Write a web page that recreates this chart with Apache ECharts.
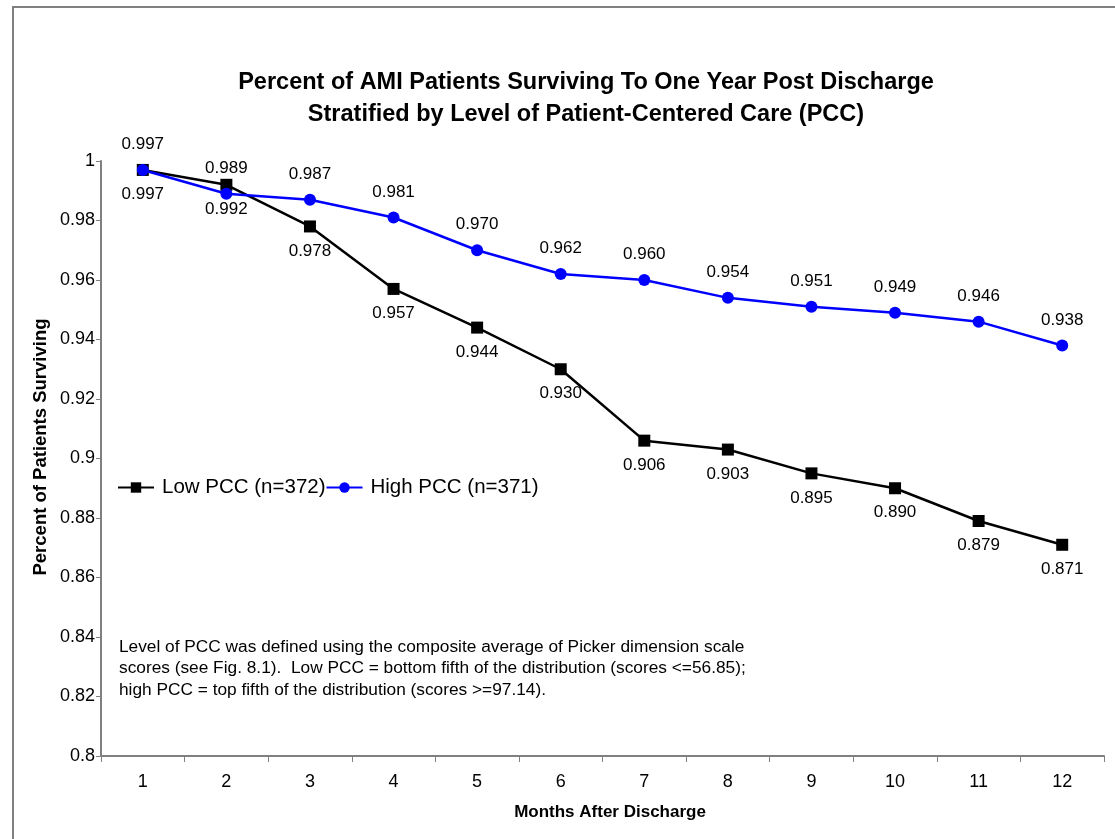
<!DOCTYPE html>
<html><head><meta charset="utf-8">
<script src="https://cdn.jsdelivr.net/npm/echarts@6/dist/echarts.min.js"></script>
<style>html,body{margin:0;padding:0;background:#fff}#c{width:1115px;height:839px}</style>
</head><body><div id="c"></div>
<script>
const months = ['1','2','3','4','5','6','7','8','9','10','11','12'];
const lowPCC = [0.997,0.992,0.978,0.957,0.944,0.930,0.906,0.903,0.895,0.890,0.879,0.871];
const highPCC = [0.997,0.989,0.987,0.981,0.970,0.962,0.960,0.954,0.951,0.949,0.946,0.938];
const lowName = 'Low PCC (n=372)';
const highName = 'High PCC (n=371)';
const titleLines = 'Percent of AMI Patients Surviving To One Year Post Discharge\nStratified by Level of Patient-Centered Care (PCC)';
const xTitle = 'Months After Discharge';
const yTitle = 'Percent of Patients Surviving';
const noteText = 'Level of PCC was defined using the composite average of Picker dimension scale\nscores (see Fig. 8.1).  Low PCC = bottom fifth of the distribution (scores <=56.85);\nhigh PCC = top fifth of the distribution (scores >=97.14).';

const FONT = '"Liberation Sans", Arial, sans-serif';
const chart = echarts.init(document.getElementById('c'));
chart.setOption({
  backgroundColor: '#fff',
  animation: false,
  title: {
    text: titleLines, left: 581, top: 62, textAlign: 'center',
    textStyle: {fontFamily: FONT, fontSize: 23.5, fontWeight: 'bold', color: '#000', lineHeight: 32}
  },
  legend: {
    left: 112, top: 472, itemGap: 0, itemWidth: 36, itemHeight: 13,
    textStyle: {fontFamily: FONT, fontSize: 20.5, color: '#000', padding: [0, 0, 0, 3]},
    data: [lowName, highName]
  },
  grid: {left: 101, top: 161, right: 11, bottom: 83},
  xAxis: {
    type: 'category', data: months, boundaryGap: true,
    axisLine: {lineStyle: {color: '#808080', width: 2}},
    axisTick: {show: true, length: 6, lineStyle: {color: '#808080'}},
    axisLabel: {fontFamily: FONT, fontSize: 18, color: '#000', margin: 17}
  },
  yAxis: {
    type: 'value', min: 0.8, max: 1, interval: 0.02,
    axisLine: {show: true, lineStyle: {color: '#808080', width: 2}},
    axisTick: {show: true, length: 5, lineStyle: {color: '#808080'}},
    splitLine: {show: false},
    axisLabel: {fontFamily: FONT, fontSize: 18, color: '#000', margin: 6,
      formatter: v => String(+v.toFixed(2))}
  },
  graphic: [
    {type: 'rect', shape: {x: 13, y: 7, width: 1200, height: 900}, style: {fill: 'none', stroke: '#808080', lineWidth: 2}, z: -1},
    {type: 'text', left: 119, top: 636, style: {text: noteText, fontFamily: FONT, fontSize: 17.3, fill: '#000', lineHeight: 21.5}},
    {type: 'text', x: 610, y: 812, style: {text: xTitle, fontFamily: FONT, fontSize: 17, fontWeight: 'bold', fill: '#000', align: 'center', verticalAlign: 'middle'}},
    {type: 'text', x: 41, y: 447, rotation: Math.PI / 2, style: {text: yTitle, fontFamily: FONT, fontSize: 18.5, fontWeight: 'bold', fill: '#000', align: 'center', verticalAlign: 'middle'}}
  ],
  series: [
    {
      name: lowName, type: 'line', data: lowPCC, color: '#000',
      symbol: 'rect', symbolSize: 12,
      lineStyle: {color: '#000', width: 2.5},
      itemStyle: {color: '#000'},
      label: {show: true, position: 'bottom', distance: 10, fontFamily: FONT, fontSize: 17, color: '#000',
        formatter: p => p.value.toFixed(3)},
      z: 2
    },
    {
      name: highName, type: 'line', data: highPCC, color: '#0000ff',
      symbol: 'circle', symbolSize: 12,
      lineStyle: {color: '#0000ff', width: 2.5},
      itemStyle: {color: '#0000ff'},
      label: {show: true, position: 'top', distance: 11, fontFamily: FONT, fontSize: 17, color: '#000',
        formatter: p => p.value.toFixed(3)},
      z: 3
    }
  ]
});
</script></body></html>
